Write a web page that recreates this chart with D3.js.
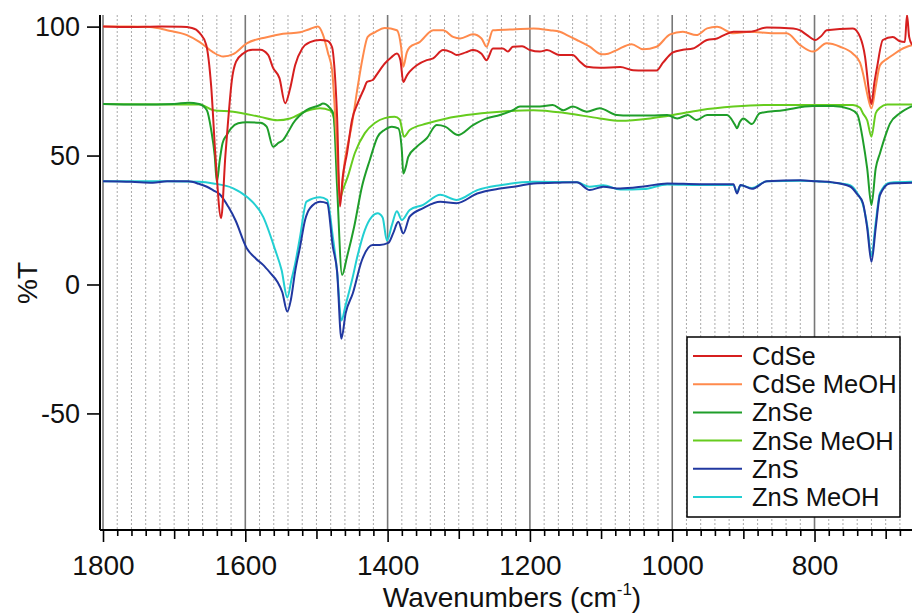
<!DOCTYPE html>
<html>
<head>
<meta charset="utf-8">
<script src="https://cdn.jsdelivr.net/npm/d3@7"></script>
<style>
  html, body { margin: 0; padding: 0; background: #fff; }
  svg { display: block; font-family: "Liberation Sans", Arial, sans-serif; }
</style>
</head>
<body>
<svg id="chart" width="912" height="613"></svg>
<script>
// ---------------- DATA ----------------
const seriesNames = ["CdSe", "CdSe MeOH", "ZnSe", "ZnSe MeOH", "ZnS", "ZnS MeOH"];
const seriesColors = ["#d61f1f", "#ff8a4c", "#1f9e2a", "#66cc1e", "#2138a0", "#22cfd2"];

const xTickLabels = [1800, 1600, 1400, 1200, 1000, 800];
const yTickLabels = [100, 50, 0, -50];

// [wavenumber, %T]
const cdse = [
  [1800,100],[1760,99.8],[1720,100],[1690,99.9],[1675,99.5],[1664,97.5],[1655,93],[1648,77],[1642,50],
  [1634,25.7],[1628,50],[1624,64],[1619,79],[1613,86.4],[1603,89.6],[1590,91],[1579,91],[1568,89],
  [1561,84],[1552,80],[1544,70.3],[1537,76],[1530,85],[1520,91.5],[1509,94],[1495,94.8],[1485,94.5],
  [1478,92],[1475,85],[1471,65],[1467,30.2],[1463,41.8],[1457,51],[1450,63.8],[1442,70.3],[1433,76],
  [1429,78.6],[1421,79.3],[1415,81.5],[1404,85.7],[1395,88],[1387,89.6],[1382,87],[1378,78.5],
  [1373,81],[1369,82.5],[1359,85],[1345,87],[1336,87.7],[1322,90.9],[1310,90],[1303,89],[1290,90],
  [1280,90.9],[1268,89.5],[1261,87],[1252,91.5],[1238,91.5],[1231,90.3],[1224,92.2],[1211,92.4],
  [1200,90.9],[1186,90.3],[1176,90.9],[1158,89],[1140,89],[1130,86.5],[1120,84.4],[1102,84],
  [1073,84.3],[1055,83.1],[1040,83],[1022,83],[1013,86],[999,90],[985,91],[971,91.5],[951,94.8],
  [937,95.4],[925,97],[914,98],[891,98],[867,99.7],[830,99.3],[820,98.5],[811,96.8],[799,94.8],
  [790,96.5],[783,98.6],[746,99.3],[736,96],[729,88.3],[723,74],[720,70],[716,78],[712,84.4],
  [704,94.8],[690,96],[680,94.3],[673,94],[670,104.5],[667,96],[663,93]
];
const cdseMeOH = [
  [1800,100],[1760,100],[1734,99.8],[1710,98.6],[1682,96.7],[1664,94],[1645,90],[1631,88.4],
  [1617,89.3],[1598,93.5],[1570,95.9],[1547,97.2],[1523,97.8],[1510,99],[1498,100],[1491,97],
  [1484,90],[1478,83],[1472,57],[1467,33],[1460,48.3],[1450,62.3],[1442,76.7],[1435,88],[1428,96],
  [1418,97.8],[1404,99.5],[1387,98.6],[1381,92],[1378,84.4],[1373,90],[1369,92],[1355,94],
  [1336,98.6],[1322,98.6],[1308,96],[1298,95.4],[1280,97],[1268,95.4],[1261,92.2],[1252,98.6],
  [1224,98.9],[1195,99.3],[1172,98.6],[1158,98],[1148,96.7],[1134,94.8],[1116,92.2],[1099,89.3],
  [1090,89.5],[1078,90.9],[1057,93.2],[1041,91.2],[1022,92.2],[1003,97],[985,98],[966,96.7],
  [951,99.3],[937,99.9],[914,97.4],[891,98],[858,97.4],[839,97.4],[820,92.8],[802,90.3],[783,93.5],
  [764,92.2],[746,89.5],[736,86],[732,82],[726,74],[720,68.3],[714,76.7],[708,85],[698,87.5],
  [690,89],[680,90.9],[670,92.2],[663,92.8]
];
const znse = [
  [1800,70],[1750,69.8],[1700,70],[1680,70.5],[1665,70],[1654,67.6],[1648,60],[1643,50],[1640,39.8],
  [1636,48],[1632,54.8],[1626,58],[1620,60.5],[1610,62.5],[1598,62.9],[1579,62.7],[1570,61.2],
  [1561,53.4],[1553,55],[1547,56],[1540,59],[1533,62.4],[1514,67.6],[1495,69.6],[1491,70.2],
  [1481,68.4],[1476,66],[1471,38],[1464,3.7],[1457,10.8],[1447,22.4],[1436,38],[1425,48.3],
  [1414,57.3],[1404,60],[1394,61.2],[1385,60.5],[1380,52],[1378,43],[1374,46],[1371,49.5],
  [1359,53.4],[1345,56.7],[1331,61.8],[1319,61.2],[1301,58],[1280,61.8],[1261,64.4],[1242,65.7],
  [1224,67.6],[1214,69],[1186,69],[1168,69.6],[1153,67.6],[1140,69],[1120,67],[1102,68.3],
  [1078,65.7],[1060,65.5],[1030,65.5],[1007,65.7],[993,64.4],[978,65.7],[966,63.8],[951,65.7],
  [923,65.7],[912,62],[909,60.6],[905,63],[900,64.4],[888,62.2],[877,66.4],[844,67.6],[802,69.2],
  [774,69.2],[750,68],[740,66],[732,56],[726,45],[720,30.8],[714,45],[708,50.9],[700,58],
  [694,62.4],[680,66.4],[663,69.2]
];
const znseMeOH = [
  [1800,70],[1700,69.8],[1664,69.8],[1645,67.6],[1617,67],[1579,65],[1555,63.7],[1537,64.4],
  [1514,67.3],[1495,68.3],[1481,67.5],[1476,65],[1471,51.3],[1467,33.5],[1463,36.6],[1456,41.8],
  [1446,51],[1432,58.7],[1418,62.6],[1404,64.5],[1390,65],[1383,64],[1377,57.3],[1369,59.9],
  [1345,62.4],[1317,64.4],[1289,65.7],[1242,67],[1195,67.6],[1148,66.4],[1102,64.4],[1073,63.5],
  [1031,64.4],[999,65.7],[961,67.6],[914,69],[867,69.6],[802,69.6],[746,69.6],[736,68.5],
  [732,66.4],[726,63.7],[720,57.3],[714,66.4],[708,68.5],[698,69.8],[663,69.8]
];
const zns = [
  [1800,40],[1760,39.8],[1730,39.5],[1710,40],[1680,40],[1665,39],[1654,37.9],[1645,36.5],
  [1636,35],[1624,30.2],[1614,25],[1598,14.1],[1585,10],[1575,7.6],[1565,4.5],[1555,1.1],
  [1548,-3],[1541,-10.5],[1536,-6],[1530,5],[1523,14.7],[1516,25],[1509,29.6],[1495,32.1],
  [1485,31.5],[1477,14.7],[1471,5],[1465,-21],[1459,-11.2],[1449,-3.5],[1436,9.5],[1421,15.3],
  [1411,15.3],[1399,16.1],[1392,20],[1385,24.3],[1378,19.8],[1369,26.3],[1350,29.6],[1326,32.1],
  [1303,31.5],[1274,35.3],[1242,37.2],[1218,38.1],[1195,39.2],[1158,39.5],[1134,39.6],[1116,36.6],
  [1097,37.9],[1073,37.2],[1040,38],[1007,39.2],[961,38.9],[914,38.9],[909,35.3],[904,38.6],
  [888,37.1],[867,40],[820,40.4],[797,40],[774,39.6],[750,38],[740,35],[732,31.6],[726,22],
  [720,8.8],[714,22],[708,34.7],[694,39.2],[663,39.5]
];
const znsMeOH = [
  [1800,40],[1710,40],[1665,39.8],[1645,39.2],[1617,37.3],[1598,34],[1575,26.3],[1558,13.4],
  [1549,5.6],[1541,-5],[1535,2],[1530,8],[1523,18.5],[1514,32.1],[1495,33.8],[1485,32.8],
  [1477,18.5],[1471,5.1],[1465,-14],[1459,-8],[1450,1.7],[1442,11.4],[1432,21.1],[1422,26.3],
  [1414,27.6],[1407,26],[1401,17],[1394,23],[1387,28.4],[1380,25],[1369,28.9],[1350,30.9],
  [1326,34.8],[1303,32.8],[1274,36.6],[1242,38.5],[1195,39.8],[1134,39.6],[1116,37.9],
  [1097,38.5],[1073,36.8],[1040,37],[1007,38.8],[961,38.6],[914,38.6],[909,35.8],[904,38.5],
  [888,37.4],[867,40],[820,40.2],[774,39.5],[750,38.5],[740,35.5],[732,31],[726,23],[720,11],
  [714,24],[708,35.5],[694,39.5],[663,39.8]
];
const seriesData = [cdse, cdseMeOH, znse, znseMeOH, zns, znsMeOH];

// ---------------- CHART ----------------
const svg = d3.select("#chart");
const plotLeft = 100, plotTop = 15, plotBottom = 530, plotRight = 912;
const FONT = "'Liberation Sans', Arial, sans-serif";

const x = d3.scaleLinear().domain([1800, 663]).range([103, plotRight]);
const y = d3.scaleLinear().domain([-95.2, 104.5]).range([plotBottom, plotTop]);

svg.append("defs").append("clipPath").attr("id", "clip")
  .append("rect").attr("x", plotLeft).attr("y", plotTop)
  .attr("width", plotRight - plotLeft).attr("height", plotBottom - plotTop);

// grid: minor every 20 (dotted), major every 200 (solid)
const minorVals = d3.range(1800, 662, -20).filter(v => v % 200 !== 0);
const majorVals = d3.range(1800, 662, -200);
const grid = svg.append("g");
grid.selectAll("line.minor").data(minorVals).join("line")
  .attr("class", "minor")
  .attr("x1", d => x(d)).attr("x2", d => x(d))
  .attr("y1", plotTop).attr("y2", plotBottom)
  .attr("stroke", "#aaaaaa").attr("stroke-width", 1)
  .attr("stroke-dasharray", "2,2");
grid.selectAll("line.major").data(majorVals).join("line")
  .attr("class", "major")
  .attr("x1", d => x(d)).attr("x2", d => x(d))
  .attr("y1", plotTop).attr("y2", plotBottom)
  .attr("stroke", "#777777").attr("stroke-width", 1.6);

// lines
const line = d3.line().x(d => x(d[0])).y(d => y(d[1])).curve(d3.curveMonotoneX);
const lines = svg.append("g").attr("clip-path", "url(#clip)");
for (let i = seriesData.length - 1; i >= 0; i--) {
  lines.append("path").datum(seriesData[i])
    .attr("fill", "none").attr("stroke", seriesColors[i])
    .attr("stroke-width", 2).attr("stroke-linejoin", "round")
    .attr("d", line);
}

// x axis ticks
const xAxisG = svg.append("g").attr("transform", `translate(0,${plotBottom})`);
const allTicks = d3.range(1800, 662, -20);
xAxisG.append("g").call(
  d3.axisBottom(x).tickValues(allTicks.filter(v => v % 100 !== 0)).tickSize(6).tickFormat("")
);
xAxisG.append("g").call(
  d3.axisBottom(x).tickValues(allTicks.filter(v => v % 100 === 0 && v % 200 !== 0)).tickSize(9).tickFormat("")
);
xAxisG.append("g").call(
  d3.axisBottom(x).tickValues(xTickLabels).tickSize(12).tickPadding(13).tickFormat(d => String(d))
);
xAxisG.selectAll(".domain").remove();
xAxisG.selectAll(".tick line").attr("stroke", "#000").attr("stroke-width", 1.6);
xAxisG.selectAll(".tick text").attr("font-size", 28).attr("fill", "#111").attr("font-family", FONT);
xAxisG.append("line").attr("x1", plotLeft).attr("x2", plotRight).attr("y1", 0).attr("y2", 0)
  .attr("stroke", "#000").attr("stroke-width", 2);

// y axis
const yAxisG = svg.append("g").attr("transform", `translate(${plotLeft},0)`)
  .call(d3.axisLeft(y).tickValues(yTickLabels).tickSize(13).tickPadding(7).tickFormat(d => String(d)));
yAxisG.select(".domain").remove();
yAxisG.selectAll(".tick line").attr("stroke", "#000").attr("stroke-width", 1.6);
yAxisG.selectAll(".tick text").attr("font-size", 27).attr("fill", "#111").attr("font-family", FONT);
yAxisG.append("line").attr("x1", 0).attr("x2", 0).attr("y1", plotTop).attr("y2", plotBottom)
  .attr("stroke", "#000").attr("stroke-width", 2);

// axis titles
const xt = svg.append("text").attr("x", 512).attr("y", 607).attr("text-anchor", "middle")
  .attr("font-size", 28).attr("fill", "#111");
xt.append("tspan").text("Wavenumbers (cm");
xt.append("tspan").attr("font-size", 17).attr("dy", -12).text("-1");
xt.append("tspan").attr("dy", 12).text(")");

svg.append("text").attr("transform", "translate(37,283) rotate(-90)")
  .attr("text-anchor", "middle").attr("font-size", 28).attr("fill", "#111").text("%T");

// legend
const lg = svg.append("g");
lg.append("rect").attr("x", 687).attr("y", 337).attr("width", 213).attr("height", 180)
  .attr("fill", "#fff").attr("stroke", "#000").attr("stroke-width", 1.5);
seriesNames.forEach((name, i) => {
  const cy = 356 + i * 28.2;
  lg.append("line").attr("x1", 693).attr("x2", 742).attr("y1", cy).attr("y2", cy)
    .attr("stroke", seriesColors[i]).attr("stroke-width", 2);
  lg.append("text").attr("x", 752).attr("y", cy).attr("dy", "0.35em")
    .attr("font-size", 25.5).attr("fill", "#111").text(name);
});
</script>
</body>
</html>
